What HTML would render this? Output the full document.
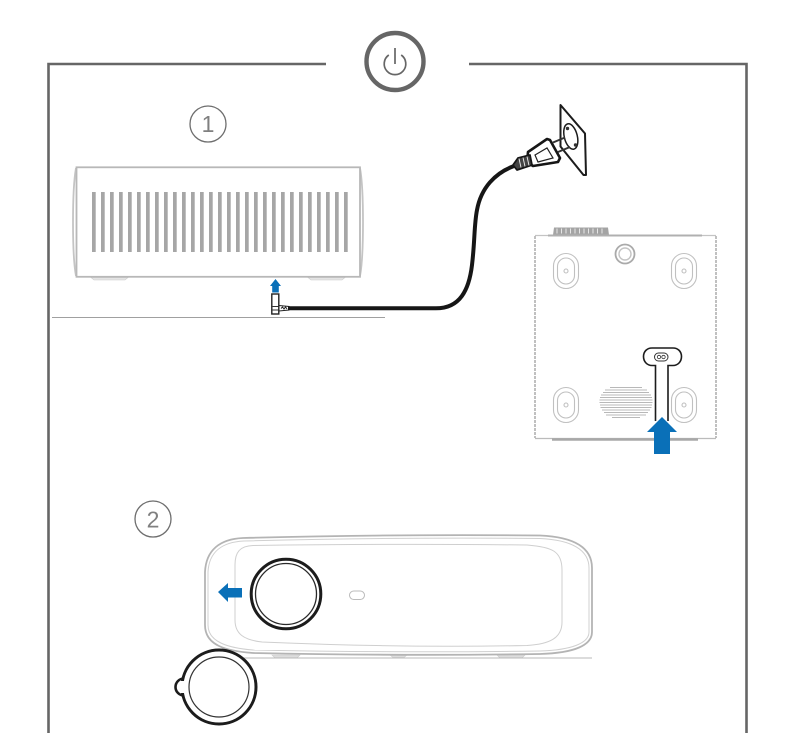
<!DOCTYPE html>
<html>
<head>
<meta charset="utf-8">
<style>
html,body{margin:0;padding:0;background:#fff;width:802px;height:733px;overflow:hidden}
svg{display:block;filter:blur(.35px)}
text{font-family:"Liberation Sans",sans-serif;fill:#808080}
</style>
</head>
<body>
<svg width="802" height="733" viewBox="0 0 802 733" xmlns="http://www.w3.org/2000/svg">
<!-- frame -->
<path d="M326 64H48.500V733M469 64H746.500V733" fill="none" stroke="#666" stroke-width="2.600"/>
<!-- power -->
<circle cx="395" cy="61.500" r="28.500" fill="none" stroke="#666" stroke-width="4.400"/>
<path d="M388.800 55A10.800 10.800 0 1 0 401.200 55" fill="none" stroke="#666" stroke-width="1.700"/>
<path d="M395 48V64" stroke="#666" stroke-width="1.700"/>
<!-- step 1 -->
<circle cx="208" cy="124" r="18" fill="none" stroke="#6e6e6e" stroke-width="1.300"/>
<text x="208" y="132" font-size="23" text-anchor="middle">1</text>
<!-- side view projector -->
<path d="M91 277.500h37l-3 2.500h-31zM308 277.500h37l-3 2.500h-31z" fill="#e4e4e4" stroke="#ccc" stroke-width=".6"/>
<path d="M76 168C72 190 72 255 76 276M360 168C364 190 364 255 360 276" fill="none" stroke="#c4c4c4" stroke-width="1.800"/>
<rect x="76.500" y="167.300" width="283.500" height="109.500" fill="#fff" stroke="#b8b8b8" stroke-width="1.800"/>
<g fill="#a6a6a6">
<rect x="92" y="192" width="3.700" height="60"/><rect x="101" y="192" width="3.700" height="60"/><rect x="110" y="192" width="3.700" height="60"/><rect x="119" y="192" width="3.700" height="60"/><rect x="128" y="192" width="3.700" height="60"/><rect x="137" y="192" width="3.700" height="60"/><rect x="146" y="192" width="3.700" height="60"/><rect x="155" y="192" width="3.700" height="60"/><rect x="164" y="192" width="3.700" height="60"/><rect x="173" y="192" width="3.700" height="60"/><rect x="182" y="192" width="3.700" height="60"/><rect x="191" y="192" width="3.700" height="60"/><rect x="200" y="192" width="3.700" height="60"/><rect x="209" y="192" width="3.700" height="60"/><rect x="218" y="192" width="3.700" height="60"/><rect x="227" y="192" width="3.700" height="60"/><rect x="236" y="192" width="3.700" height="60"/><rect x="245" y="192" width="3.700" height="60"/><rect x="254" y="192" width="3.700" height="60"/><rect x="263" y="192" width="3.700" height="60"/><rect x="272" y="192" width="3.700" height="60"/><rect x="281" y="192" width="3.700" height="60"/><rect x="290" y="192" width="3.700" height="60"/><rect x="299" y="192" width="3.700" height="60"/><rect x="308" y="192" width="3.700" height="60"/><rect x="317" y="192" width="3.700" height="60"/><rect x="326" y="192" width="3.700" height="60"/><rect x="335" y="192" width="3.700" height="60"/><rect x="344" y="192" width="3.700" height="60"/>
</g>
<path d="M52 317.500H385" stroke="#a0a0a0" stroke-width="1"/>
<!-- small arrow and plug -->
<path d="M275.500 279L281 286H278.800V292.500H272.200V286H270Z" fill="#0a70b8"/>
<rect x="271.800" y="294" width="7" height="20" fill="#fff" stroke="#222" stroke-width="1.400"/>
<path d="M271 306.500H279.500M271 310H279.500" stroke="#333" stroke-width=".9"/>
<path d="M279 305.500L289 306.500V310L279 311Z" fill="#fff" stroke="#222" stroke-width="1"/>
<path d="M281 308.500l1.500-1.500 1.500 2 1.500-2 1.500 2" fill="none" stroke="#222" stroke-width="1"/>
<!-- cord -->
<path d="M288 308.300H436C460 308.300 469 290 472 265C475 240 474 225 477 210C481 188 495 173 514 166" fill="none" stroke="#161616" stroke-width="4"/>
<!-- wall plate -->
<path d="M560.500 105L585 133.500L586 175H583.500L560.500 146.500Z" fill="#fff" stroke="#1c1c1c" stroke-width="2" stroke-linejoin="round"/>
<ellipse cx="570.800" cy="136.500" rx="6.500" ry="13" transform="rotate(-14 570.800 136.500)" fill="#fff" stroke="#1c1c1c" stroke-width="1.500"/>
<circle cx="567.500" cy="128.500" r="1.700" fill="#333"/><circle cx="575.500" cy="145" r="1.700" fill="#333"/>
<!-- plug -->
<path d="M553 142.500L565 137.500M558 152L570 147" stroke="#333" stroke-width="2"/>
<path d="M528 152L547 139L550 140L560 158L558 162L533 166L527 162Z" fill="#fff" stroke="#161616" stroke-width="2.600" stroke-linejoin="round"/>
<path d="M535 155L547 148L553 158L538 162Z" fill="none" stroke="#222" stroke-width="1.200"/>
<path d="M513 165L518 158L530 155L532 165L517 170Z" fill="#444" stroke="#161616" stroke-width="1.800" stroke-linejoin="round"/>
<path d="M519 158.500l2 9M523 157.500l2 9M527 156.500l2 9" stroke="#eee" stroke-width=".9"/>
<!-- bottom view -->
<path d="M554 227.500H608L609 235H553Z" fill="#a4a4a4"/>
<path d="M557 228.500v5M561.500 228.500v5M566 228.500v5M570.500 228.500v5M575 228.500v5M579.500 228.500v5M584 228.500v5M588.500 228.500v5M593 228.500v5M597.500 228.500v5M602 228.500v5" stroke="#eee" stroke-width=".9"/>
<path d="M535 235.500H716" stroke="#c4c4c4" stroke-width="1.200"/>
<path d="M548 235.500H702" stroke="#b0b0b0" stroke-width="2"/>
<path d="M535 236V438M716 236V438" fill="none" stroke="#b0b0b0" stroke-width="1.600" stroke-dasharray="3 1"/>
<path d="M535 438.500H716" stroke="#bbb" stroke-width="1.200"/>
<path d="M552 439.500H698" stroke="#a8a8a8" stroke-width="2.500"/>
<g fill="#fff" stroke="#c0c0c0" stroke-width="1.100">
<rect x="553.500" y="253.500" width="25" height="35" rx="12.500"/><rect x="557.500" y="258" width="17" height="26" rx="8.500"/>
<rect x="671.500" y="253.500" width="25" height="35" rx="12.500"/><rect x="675.500" y="258" width="17" height="26" rx="8.500"/>
<rect x="553.500" y="387.500" width="25" height="35" rx="12.500"/><rect x="557.500" y="392" width="17" height="26" rx="8.500"/>
<rect x="671.500" y="387.500" width="25" height="35" rx="12.500"/><rect x="675.500" y="392" width="17" height="26" rx="8.500"/>
<circle cx="566" cy="271" r="2"/><circle cx="684" cy="271" r="2"/><circle cx="566" cy="405" r="2"/><circle cx="684" cy="405" r="2"/>
</g>
<circle cx="625" cy="254" r="9.500" fill="#fff" stroke="#aaa" stroke-width="1.800"/>
<circle cx="625" cy="254" r="6" fill="#fff" stroke="#c4c4c4" stroke-width="1.400"/>
<g stroke="#b8b8b8" stroke-width="1.100" fill="none">
<path d="M610 387.500H642M605 390H647M603 392.500H649M601 395H651M600 397.500H652M599.500 400H652.500M599.500 402.500H652.500M600 405H652M600.500 407.500H651.500M602 410H650M604 412.500H648M606 415H646M612 417.500H640"/>
</g>
<!-- keyhole -->
<path d="M655.500 421V365.500H652C647 365.500 643.500 361.500 643.500 356.500C643.500 351.500 647 348 652 348H673C678 348 681.500 351.500 681.500 356.500C681.500 361.500 678 365.500 673 365.500H668V421" fill="#fff" stroke="#1c1c1c" stroke-width="1.600"/>
<rect x="654.500" y="353" width="13.500" height="8" rx="4" fill="#fff" stroke="#333" stroke-width="1"/>
<circle cx="659" cy="357" r="1.700" fill="none" stroke="#333" stroke-width=".8"/><circle cx="663.500" cy="357" r="1.700" fill="none" stroke="#333" stroke-width=".8"/>
<path d="M662 417L677 432H670V454H654V432H647Z" fill="#0a70b8"/>
<!-- step 2 -->
<circle cx="153" cy="519" r="18" fill="none" stroke="#6e6e6e" stroke-width="1.300"/>
<text x="153" y="527.500" font-size="23" text-anchor="middle">2</text>
<!-- front view -->
<path d="M272 655h28l-3 3h-22zM390 655h17l-3 2.500h-11zM497 655h28l-3 3h-22z" fill="#ddd" stroke="#ccc" stroke-width=".6"/>
<path d="M205 658H592" stroke="#b8b8b8" stroke-width="1"/>
<path d="M243 538Q400 534 540 535.500C575 537 592 548 592 568V632C592 645 575 653 540 654Q400 656 253 653C225 651 205 645 205 625V572C206 550 220 539 243 538Z" fill="#fff" stroke="#b4b4b4" stroke-width="1.800"/>
<path d="M244 541Q400 537 540 538.500C572 540 589 550 589 568V632C589 643 572 650 540 651Q400 653 253 650C228 648 208 642 208 625V572C209 552 222 542 244 541Z" fill="none" stroke="#d0d0d0" stroke-width="1"/>
<path d="M253 545.500Q400 543.500 527 545C552 547 562 551 562 570V622C562 638 550 644 527 645.500Q400 648 262 642C244 640 235 634 235 620V565C235 552 240 546 253 545.500Z" fill="none" stroke="#cfcfcf" stroke-width="1"/>
<circle cx="286" cy="594" r="34.800" fill="#fff" stroke="#1c1c1c" stroke-width="3"/>
<circle cx="286" cy="594" r="30.500" fill="#fff" stroke="#2a2a2a" stroke-width="1.300"/>
<rect x="349.500" y="591" width="15" height="8.500" rx="4.250" fill="#fff" stroke="#bbb" stroke-width="1"/>
<path d="M218 592L228 583V588H242V597.500H228V602Z" fill="#0a70b8"/>
<!-- lens cap -->
<circle cx="184" cy="687" r="8.500" fill="#fff" stroke="#1c1c1c" stroke-width="2.600"/>
<circle cx="219" cy="687" r="37" fill="#fff" stroke="#1c1c1c" stroke-width="3"/>
<rect x="180" y="681" width="5" height="12" fill="#fff"/>
<circle cx="219" cy="687" r="30" fill="#fff" stroke="#333" stroke-width="1.200"/>
</svg>
</body>
</html>
